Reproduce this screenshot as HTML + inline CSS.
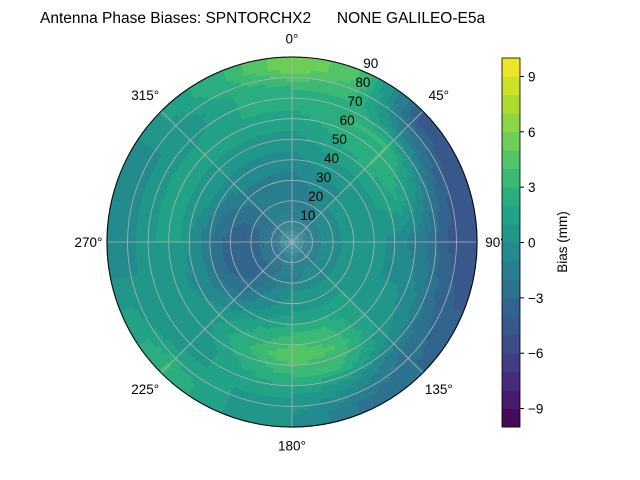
<!DOCTYPE html>
<html><head><meta charset="utf-8"><style>
body{margin:0;background:#fff;}
svg{display:block;font-family:"Liberation Sans","DejaVu Sans",sans-serif;}
</style></head><body>
<svg id="chart" width="640" height="480">
<text x="40" y="23" font-size="15.5" style="white-space:pre">Antenna Phase Biases: SPNTORCHX2      NONE GALILEO-E5a</text>
<g id="field"></g>
<g id="grid"></g>
<g id="cbar"></g>
</svg>
<script>
const azimuths=[0,22.5,45,67.5,90,112.5,135,157.5,180,202.5,225,247.5,270,292.5,315,337.5];
const zeniths=[5,15,25,35,45,55,65,75,85];
const biasN=[-2,-2,-2,-1,0,1,2,3,6];
const biasNNE=[-2,-2,-1,0,1,2,3,3,4];
const biasNE=[-2,-1,0,0,1,3,3,-1,-4];
const biasENE=[-2,-1,0,0,1,2,0,-3,-5];
const biasE=[-2,-1,0,0,0,-1,-2,-4,-5];
const biasESE=[-2,-1,0,0,0,0,-1,-3,-4];
const biasSE=[-2,-1,0,1,1,1,0,-2,-3];
const biasSSE=[-2,-1,0,1,3,4,3,0,-2];
const biasS=[-2,-2,0,1,3,5,3,1,0];
const biasSSW=[-2,-2,-1,0,2,3,2,1,1];
const biasSW=[-2,-3,-3,-2,0,1,0,1,3];
const biasWSW=[-2,-3,-4,-3,-1,0,0,0,1];
const biasW=[-2,-3,-4,-3,-1,1,1,0,-1];
const biasWNW=[-2,-3,-3,-2,0,1,1,0,-1];
const biasNW=[-2,-2,-2,-1,0,1,1,0,1];
const biasNNW=[-2,-2,-2,-1,0,1,2,2,3];
const grid=[biasN,biasNNE,biasNE,biasENE,biasE,biasESE,biasSE,biasSSE,biasS,biasSSW,biasSW,biasWSW,biasW,biasWNW,biasNW,biasNNW];
const ringTicks=[10,20,30,40,50,60,70,80,90];
const angleTicks=[0,45,90,135,180,225,270,315];
const cbarTicks=[-9,-6,-3,0,3,6,9];
const vmin=-10,vmax=10;

const NS="http://www.w3.org/2000/svg";
const cx=292,cy=242,R=185;
function rScale(z){return z/90*R;}
function pt(az,z){const a=az*Math.PI/180,r=rScale(z);return [cx+r*Math.sin(a),cy-r*Math.cos(a)];}
const vir=[[68,1,84],[72,36,117],[65,68,135],[53,95,141],[42,120,142],[33,145,140],[34,168,132],[68,191,112],[122,209,81],[189,223,38],[253,231,37]];
function viridis(t){t=Math.max(0,Math.min(1,t));const f=t*10,i=Math.min(9,Math.floor(f)),u=f-i;const a=vir[i],b=vir[i+1];return `rgb(${a.map((v,k)=>Math.round(v+(b[k]-v)*u)).join(',')})`;}
function levelColor(v){let k=Math.floor(v-vmin);k=Math.max(0,Math.min(19,k));return viridis((k+0.5)/20);}
function sample(az,z){
  const n=azimuths.length;let fa=((az%360)+360)%360/22.5;const i0=Math.floor(fa)%n,i1=(i0+1)%n,ua=fa-Math.floor(fa);
  let fz=(z-5)/10;fz=Math.max(0,Math.min(zeniths.length-1,fz));const j0=Math.floor(fz),j1=Math.min(zeniths.length-1,j0+1),uz=fz-j0;
  const v0=grid[i0][j0]*(1-uz)+grid[i0][j1]*uz,v1=grid[i1][j0]*(1-uz)+grid[i1][j1]*uz;return v0*(1-ua)+v1*ua;}
const field=document.getElementById('field');
const dA=2,dZ=2;
for(let a=0;a<360;a+=dA){for(let z=0;z<90;z+=dZ){
  const v=sample(a+dA/2,z+dZ/2);
  const p1=pt(a,z),p2=pt(a+dA+0.3,z),p3=pt(a+dA+0.3,z+dZ+0.3),p4=pt(a,z+dZ+0.3);
  const p=document.createElementNS(NS,'path');
  p.setAttribute('d',`M${p1}L${p2}L${p3}L${p4}Z`);
  p.setAttribute('fill',levelColor(v));
  
  
  field.appendChild(p);}}
const g=document.getElementById('grid');
let h='';
ringTicks.forEach(t=>{h+=`<circle cx="${cx}" cy="${cy}" r="${rScale(t)}" fill="none" stroke="#b0b0b0" stroke-width="0.8"/>`;});
angleTicks.forEach(t=>{const p=pt(t,90);h+=`<line x1="${cx}" y1="${cy}" x2="${p[0]}" y2="${p[1]}" stroke="#b0b0b0" stroke-width="0.8"/>`;
  const q=pt(t,90+(t%90===0?9:11));h+=`<text x="${q[0]}" y="${q[1]+5}" font-size="13.5" text-anchor="middle">${t}°</text>`;});
h+=`<circle cx="${cx}" cy="${cy}" r="${R}" fill="none" stroke="#000" stroke-width="1"/>`;
ringTicks.forEach(t=>{const p=pt(22.5,t);h+=`<text x="${p[0]+8}" y="${p[1]-3}" font-size="13.5" text-anchor="middle">${t}</text>`;});
g.innerHTML=h;
const cb=document.getElementById('cbar');
const cbx=502,cbw=18,cbTop=58,cbBot=427;
function cbY(v){return cbBot-(v-vmin)/(vmax-vmin)*(cbBot-cbTop);}
let c='';
for(let k=0;k<20;k++){const v=vmin+k;c+=`<rect x="${cbx}" y="${cbY(v+1)}" width="${cbw}" height="${cbY(v)-cbY(v+1)+0.3}" fill="${levelColor(v+0.5)}"/>`;}
c+=`<rect x="${cbx}" y="${cbTop}" width="${cbw}" height="${cbBot-cbTop}" fill="none" stroke="#000" stroke-width="0.8"/>`;
cbarTicks.forEach(t=>{const y=cbY(t);c+=`<line x1="${cbx+cbw}" y1="${y}" x2="${cbx+cbw+4}" y2="${y}" stroke="#000"/><text x="${cbx+cbw+8}" y="${y+5}" font-size="13.5">${t<0?'−'+(-t):t}</text>`;});
c+=`<text transform="translate(567,242) rotate(-90)" font-size="13.5" text-anchor="middle">Bias (mm)</text>`;
cb.innerHTML=c;
</script>
</body></html>
